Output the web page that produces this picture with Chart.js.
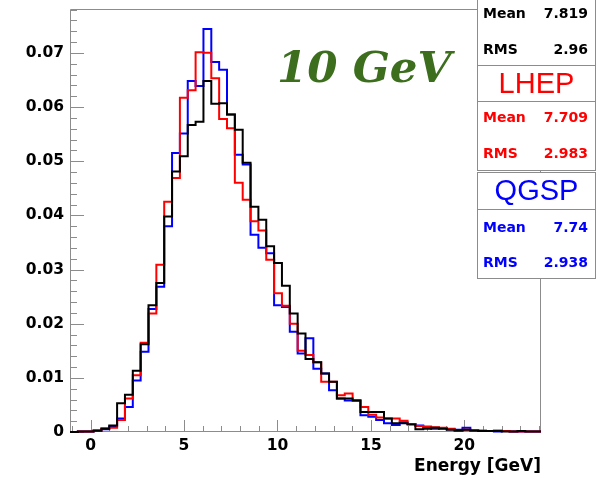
<!DOCTYPE html>
<html>
<head>
<meta charset="utf-8">
<title>Energy [GeV]</title>
<script src="https://cdn.jsdelivr.net/npm/chart.js@4.4.1/dist/chart.umd.min.js"></script>
<style>
  html, body { margin: 0; padding: 0; background: #fff; }
  #wrap { position: relative; width: 599px; height: 479px; }
</style>
</head>
<body>
<div id="wrap"><canvas id="energyChart" width="599" height="479"></canvas></div>
<script>
// 60 bins from -1.1 to 24.1 GeV
const binLow = -1.1;
const binWidth = 0.42;

const dataHist = [
  0, 0, 0.0001, 0.0001, 0.0003, 0.0006, 0.0012, 0.0053, 0.0069, 0.0113,
  0.0162, 0.0234, 0.0275, 0.0398, 0.0481, 0.0509, 0.0567, 0.0573, 0.0648, 0.0606,
  0.0607, 0.0586, 0.0558, 0.0497, 0.0416, 0.0392, 0.0343, 0.0312, 0.0270, 0.0219,
  0.0182, 0.0135, 0.0129, 0.0108, 0.0093, 0.0062, 0.0062, 0.0058, 0.0037, 0.0037,
  0.0037, 0.0025, 0.0016, 0.0016, 0.0014, 0.0005, 0.0006, 0.0008, 0.0006, 0.0004,
  0.0003, 0.0004, 0.0003, 0.0002, 0.0002, 0.0002, 0.0001, 0.0001, 0.0002, 0.0001
];
const lhepHist = [
  0, 0, 0.0001, 0.0001, 0.0003, 0.0007, 0.0008, 0.0022, 0.0062, 0.0105,
  0.0165, 0.0219, 0.0309, 0.0425, 0.0469, 0.0617, 0.0631, 0.0701, 0.0700, 0.0653,
  0.0578, 0.0561, 0.0460, 0.0429, 0.0389, 0.0372, 0.0318, 0.0256, 0.0233, 0.0200,
  0.0150, 0.0142, 0.0129, 0.0093, 0.0093, 0.0068, 0.0071, 0.0058, 0.0046, 0.0032,
  0.0027, 0.0025, 0.0025, 0.0021, 0.0015, 0.0011, 0.0010, 0.0009, 0.0008, 0.0006,
  0.0002, 0.0004, 0.0003, 0.0003, 0.0002, 0.0003, 0.0002, 0.0001, 0.0001, 0.0001
];
const qgspHist = [
  0, 0, 0.0001, 0.0001, 0.0002, 0.0005, 0.0010, 0.0025, 0.0046, 0.0095,
  0.0148, 0.0227, 0.0268, 0.0380, 0.0515, 0.0551, 0.0648, 0.0639, 0.0744, 0.0683,
  0.0669, 0.0586, 0.0512, 0.0494, 0.0364, 0.0340, 0.0330, 0.0234, 0.0231, 0.0185,
  0.0145, 0.0173, 0.0117, 0.0108, 0.0077, 0.0062, 0.0058, 0.0058, 0.0031, 0.0028,
  0.0022, 0.0016, 0.0013, 0.0018, 0.0015, 0.0012, 0.0008, 0.0006, 0.0007, 0.0005,
  0.0004, 0.0008, 0.0003, 0.0002, 0.0002, 0.0001, 0.0002, 0.0001, 0.0001, 0.0001
];

const xTicks = [0, 5, 10, 15, 20];
const yTicks = [0, 0.01, 0.02, 0.03, 0.04, 0.05, 0.06, 0.07];

// stats boxes: data, LHEP, QGSP
const statNames = ['', 'LHEP', 'QGSP'];
const statMeans = ['7.819', '7.709', '7.74'];
const statRms = ['2.96', '2.983', '2.938'];

const energyLabel = '10 GeV';

function steps(values) {
  const pts = values.map((v, i) => ({ x: binLow + i * binWidth, y: v }));
  pts.push({ x: binLow + values.length * binWidth, y: values[values.length - 1] });
  return pts;
}

const axisGray = '#8c8c8c';
const tickFont = { family: 'DejaVu Sans', weight: 'bold', size: 15.5 };

const framePlugin = {
  id: 'frame',
  beforeDatasetsDraw(chart) {
    const { ctx, chartArea: a, scales: { x, y } } = chart;
    ctx.save();
    ctx.strokeStyle = axisGray;
    ctx.lineWidth = 1;
    ctx.beginPath();
    ctx.moveTo(a.left + 0.5, a.bottom);
    ctx.lineTo(a.left + 0.5, a.top + 0.5);
    ctx.lineTo(a.right - 0.5, a.top + 0.5);
    ctx.lineTo(a.right - 0.5, a.bottom - 0.5);
    ctx.lineTo(a.left, a.bottom - 0.5);
    ctx.stroke();

    // inward ticks, majors every 5 GeV and 0.01
    ctx.beginPath();
    for (let v = -1; v <= 24; v++) {
      const px = Math.round(x.getPixelForValue(v)) + 0.5;
      const len = v % 5 === 0 ? 12 : 6;
      ctx.moveTo(px, a.bottom);
      ctx.lineTo(px, a.bottom - len);
    }
    for (let k = 0; k <= 39; k++) {
      const py = Math.round(y.getPixelForValue(k * 0.002)) + 0.5;
      if (py < a.top) break;
      const len = k % 5 === 0 ? 14 : 7;
      ctx.moveTo(a.left, py);
      ctx.lineTo(a.left + len, py);
    }
    ctx.stroke();
    ctx.restore();
  },
  afterDraw(chart) {
    const { ctx } = chart;
    ctx.save();

    // energy label
    ctx.fillStyle = '#3c6e1e';
    ctx.font = 'italic bold 43.5px "DejaVu Serif"';
    ctx.textBaseline = 'alphabetic';
    ctx.textAlign = 'left';
    ctx.fillText(energyLabel, 277, 82);

    const colors = ['#000000', '#ff0000', '#0000ff'];
    const left = 477.5, right = 595.5;
    const layout = [
      { top: -1, head: null, rows: [14, 50], bottom: 65.5 },
      { top: 65.5, head: 101.5, rows: [118, 154], bottom: 170.5 },
      { top: 172.5, head: 209.5, rows: [228, 263], bottom: 278.5 }
    ];
    layout.forEach((b, i) => {
      ctx.fillStyle = '#fff';
      ctx.fillRect(left, b.top, right - left, b.bottom - b.top);
      ctx.strokeStyle = axisGray;
      ctx.lineWidth = 1;
      ctx.strokeRect(left, b.top, right - left, b.bottom - b.top);
      if (b.head) {
        ctx.beginPath();
        ctx.moveTo(left, b.head);
        ctx.lineTo(right, b.head);
        ctx.stroke();
        ctx.fillStyle = colors[i];
        ctx.font = '29px "Liberation Sans"';
        ctx.textAlign = 'center';
        ctx.textBaseline = 'middle';
        ctx.fillText(statNames[i], (left + right) / 2, (b.top + b.head) / 2 + 1);
      }
      ctx.fillStyle = colors[i];
      ctx.font = 'bold 14px "DejaVu Sans"';
      ctx.textBaseline = 'middle';
      ctx.textAlign = 'left';
      ctx.fillText('Mean', 483, b.rows[0]);
      ctx.fillText('RMS', 483, b.rows[1]);
      ctx.textAlign = 'right';
      ctx.fillText(statMeans[i], 588, b.rows[0]);
      ctx.fillText(statRms[i], 588, b.rows[1]);
    });
    ctx.restore();
  }
};

const histStyle = {
  stepped: 'after',
  borderWidth: 2,
  pointRadius: 0,
  fill: false,
  tension: 0,
  clip: false
};

new Chart(document.getElementById('energyChart').getContext('2d'), {
  type: 'line',
  data: {
    datasets: [
      { label: 'Data', data: steps(dataHist), borderColor: '#000000', ...histStyle },
      { label: 'LHEP', data: steps(lhepHist), borderColor: '#ff0000', ...histStyle },
      { label: 'QGSP', data: steps(qgspHist), borderColor: '#0000ff', ...histStyle }
    ]
  },
  options: {
    responsive: false,
    animation: false,
    events: [],
    layout: { padding: { top: 9, right: 58, left: 0, bottom: 0 } },
    plugins: { legend: { display: false }, tooltip: { enabled: false } },
    scales: {
      x: {
        type: 'linear',
        min: binLow,
        max: binLow + 60 * binWidth,
        grid: { display: false, drawTicks: false },
        border: { display: false },
        afterBuildTicks(scale) { scale.ticks = xTicks.map(v => ({ value: v })); },
        afterFit(scale) {
          scale.height = 47;
          scale.paddingLeft = 0;
          scale.paddingRight = 0;
        },
        ticks: { color: '#000', font: tickFont, padding: 5, maxRotation: 0, autoSkip: false },
        title: {
          display: true,
          text: 'Energy [GeV]',
          align: 'end',
          color: '#000',
          font: { family: 'DejaVu Sans', weight: 'bold', size: 17 },
          padding: { top: 0, bottom: 2 }
        }
      },
      y: {
        min: 0,
        max: 0.0781,
        grid: { display: false, drawTicks: false },
        border: { display: false },
        afterBuildTicks(scale) { scale.ticks = yTicks.map(v => ({ value: v })); },
        afterFit(scale) {
          scale.width = 70;
          scale.paddingTop = 0;
          scale.paddingBottom = 0;
        },
        ticks: {
          color: '#000',
          font: tickFont,
          padding: 6,
          callback: v => (v === 0 ? '0' : v.toFixed(2))
        }
      }
    }
  },
  plugins: [framePlugin]
});
</script>
</body>
</html>
